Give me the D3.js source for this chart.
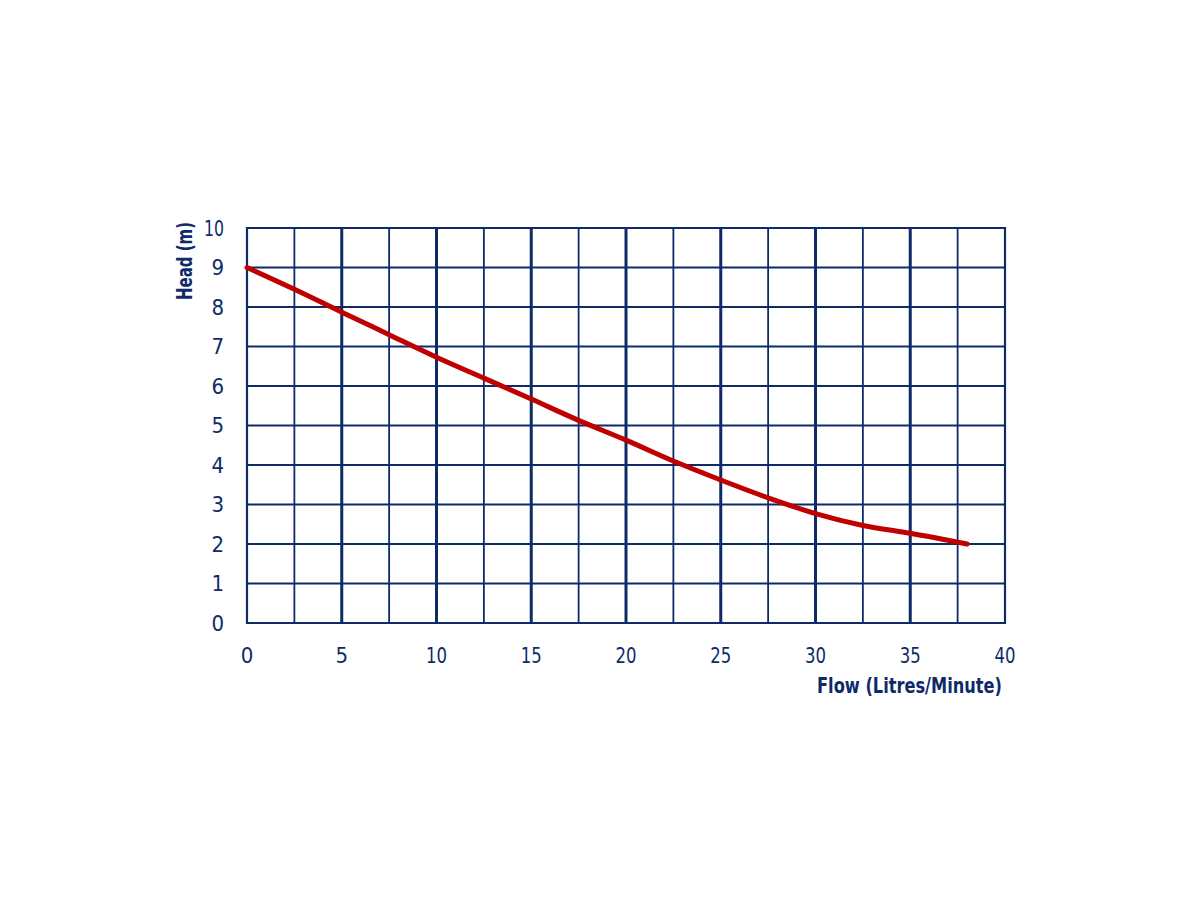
<!DOCTYPE html>
<html><head><meta charset="utf-8">
<script src="https://cdn.jsdelivr.net/npm/d3@7"></script>
<style>body{margin:0;background:#fff} text{font-stretch:condensed}</style>
</head><body>
<svg id="c" width="1200" height="900"></svg>
<script>
const flow = [0, 2.5, 5, 7.5, 10, 12.5, 15, 17.5, 20, 22.5, 25, 27.5, 30, 32.5, 35, 38];
const head = [9, 8.45, 7.87, 7.3, 6.73, 6.2, 5.67, 5.13, 4.63, 4.1, 3.62, 3.17, 2.77, 2.47, 2.27, 2.0];
const xTicks = [0, 5, 10, 15, 20, 25, 30, 35, 40];
const yTicks = [0, 1, 2, 3, 4, 5, 6, 7, 8, 9, 10];
const xMinor = [2.5, 7.5, 12.5, 17.5, 22.5, 27.5, 32.5, 37.5];

const navy = "#0f2a68", red = "#c00000";
const font = "'DejaVu Sans Condensed','DejaVu Sans',sans-serif";
const svg = d3.select("#c");
const x = d3.scaleLinear().domain([0, 40]).range([247, 1005]);
const y = d3.scaleLinear().domain([0, 10]).range([623, 228]);

const g = svg.append("g");
g.selectAll("line.h").data(yTicks).join("line")
  .attr("x1", x(0)).attr("x2", x(40)).attr("y1", d => y(d)).attr("y2", d => y(d))
  .attr("stroke", navy).attr("stroke-width", 2);
g.selectAll("line.vm").data(xMinor).join("line")
  .attr("y1", y(0)).attr("y2", y(10)).attr("x1", d => x(d)).attr("x2", d => x(d))
  .attr("stroke", navy).attr("stroke-width", 1.8);
g.selectAll("line.vM").data(xTicks).join("line")
  .attr("y1", y(0) + 1).attr("y2", y(10) - 1).attr("x1", d => x(d)).attr("x2", d => x(d))
  .attr("stroke", navy).attr("stroke-width", d => (d === 0 || d === 40) ? 2.2 : 3);

const pts = flow.map((f, i) => [f, head[i]]);
svg.append("path").datum(pts)
  .attr("d", d3.line().x(d => x(d[0])).y(d => y(d[1])).curve(d3.curveMonotoneX))
  .attr("fill", "none").attr("stroke", red).attr("stroke-width", 5).attr("stroke-linecap", "round");

svg.selectAll("text.yt").data(yTicks).join("text")
  .attr("x", 224).attr("y", d => y(d)).attr("dy", "0.36em")
  .attr("text-anchor", "end").attr("font-family", font).attr("font-size", 22)
  .attr("fill", navy).text(d => d)
  .each(function(d){ if (d === 10) d3.select(this).attr("textLength", 20).attr("lengthAdjust", "spacingAndGlyphs"); });
svg.selectAll("text.xt").data(xTicks).join("text")
  .attr("x", d => x(d)).attr("y", 663)
  .attr("text-anchor", "middle").attr("font-family", font).attr("font-size", 22)
  .attr("fill", navy).text(d => d)
  .each(function(d){ if (d >= 10) d3.select(this).attr("textLength", 21).attr("lengthAdjust", "spacingAndGlyphs"); });

svg.append("text").attr("transform", "translate(192,261) rotate(-90)")
  .attr("text-anchor", "middle").attr("font-family", font).attr("font-size", 21)
  .attr("font-weight", "bold").attr("fill", navy)
  .attr("textLength", 78).attr("lengthAdjust", "spacingAndGlyphs").text("Head (m)");
svg.append("text").attr("x", 1002).attr("y", 693)
  .attr("text-anchor", "end").attr("font-family", font).attr("font-size", 21)
  .attr("font-weight", "bold").attr("fill", navy)
  .attr("textLength", 185).attr("lengthAdjust", "spacingAndGlyphs").text("Flow (Litres/Minute)");
</script>
</body></html>
